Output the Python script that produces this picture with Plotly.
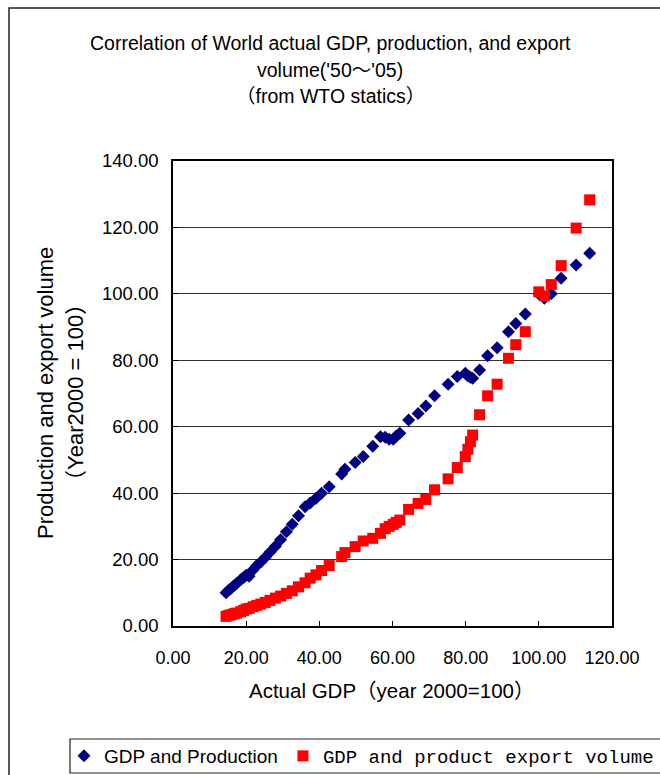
import plotly.graph_objects as go

# World actual GDP index (2000 = 100), '50 - '05
gdp = [14.5, 15.2, 15.9, 16.7, 17.4, 18.5, 19.3, 20.0, 20.8, 21.9,
       22.9, 24.0, 25.2, 26.5, 28.0, 29.4, 31.0, 32.6, 34.3, 36.1,
       37.5, 39.1, 40.6, 42.7, 46.1, 47.0, 49.8, 52.0, 54.6, 56.7,
       58.0, 59.1, 60.2, 61.0, 62.0, 64.4, 67.0, 69.1, 71.5, 75.2,
       77.7, 79.9, 80.6, 81.3, 81.9, 83.8, 86.0, 88.6, 91.7, 93.7,
       96.3, 100.0, 101.5, 103.4, 106.1, 110.2, 113.9]

production = [10.0, 10.8, 11.4, 12.2, 12.8, 13.9, 14.6, 15.3, 15.0, 16.9,
              18.2, 19.3, 20.6, 22.2, 24.0, 26.0, 28.4, 30.6, 33.2, 35.9,
              37.0, 38.5, 40.0, 41.9, 45.8, 47.2, 49.2, 51.0, 54.1, 57.0,
              56.8, 56.2, 56.2, 57.2, 58.0, 62.0, 64.0, 66.2, 69.3, 72.8,
              75.1, 76.1, 75.3, 74.9, 74.6, 77.1, 81.4, 83.8, 88.6, 91.1,
              93.9, 100.0, 98.7, 100.0, 104.7, 108.7, 112.2]

exports = [2.9, 3.2, 3.4, 3.7, 3.9, 4.3, 4.7, 5.1, 5.3, 5.8,
           6.2, 6.6, 7.1, 7.7, 8.4, 9.0, 9.8, 10.6, 11.8, 13.0,
           14.4, 15.4, 16.7, 18.2, 20.9, 22.1, 23.9, 25.6, 26.4, 27.9,
           29.3, 30.0, 30.6, 31.2, 31.9, 35.1, 36.9, 38.1, 41.0, 44.3,
           47.7, 51.0, 53.2, 55.5, 57.5, 63.6, 69.3, 72.8, 80.6, 84.7,
           88.6, 100.6, 99.4, 102.8, 108.5, 119.8, 128.3]

x_ticks = [0, 20, 40, 60, 80, 100, 120]
y_ticks = [0, 20, 40, 60, 80, 100, 120, 140]

title_lines = ["Correlation of World actual GDP, production, and export",
               "volume('50～'05)",
               "（from WTO statics）"]
x_title = "Actual GDP（year 2000=100）"
y_title_lines = ["Production and export volume", "（Year2000 = 100）"]
series_names = ["GDP and Production", "GDP and product export volume"]

FONT = "Liberation Sans, Noto Sans CJK JP, sans-serif"

fig = go.Figure()
fig.add_trace(go.Scatter(
    x=gdp, y=production, mode="markers", name=series_names[0],
    marker=dict(symbol="diamond", size=10, color="#000080",
                line=dict(width=0)),
))
fig.add_trace(go.Scatter(
    x=gdp, y=exports, mode="markers",
    name="<span style='font-family:Liberation Mono'>" + series_names[1] + "</span>",
    marker=dict(symbol="square", size=11, color="#FF0000",
                line=dict(width=0)),
))

L, R, T, B = 173, 48, 161, 149
W, H = 660, 775
pw, ph = W - L - R, H - T - B


def px(xpix):
    return (xpix - L) / pw


def py(ypix):
    return (H - B - ypix) / ph


annotations = []
for line, yy in zip(title_lines, [43, 70, 96]):
    annotations.append(dict(text=line, x=px(330), y=py(yy), xref="paper", yref="paper",
                            showarrow=False, xanchor="center", yanchor="middle",
                            font=dict(family=FONT, size=19.5, color="black")))
annotations.append(dict(text=x_title, x=px(391), y=py(690), xref="paper", yref="paper",
                        showarrow=False, xanchor="center", yanchor="middle",
                        font=dict(family=FONT, size=20.5, color="black")))
for line, xx in zip(y_title_lines, [45, 75]):
    annotations.append(dict(text=line, x=px(xx), y=py(393), xref="paper", yref="paper",
                            showarrow=False, xanchor="center", yanchor="middle",
                            textangle=-90,
                            font=dict(family=FONT, size=22, color="black")))

shapes = [
    # outer chart frame
    dict(type="rect", xref="paper", yref="paper",
         x0=px(9), x1=px(668), y0=py(785), y1=py(8),
         line=dict(color="#222222", width=1.5), layer="below"),
    # legend frame
    dict(type="rect", xref="paper", yref="paper",
         x0=px(70), x1=px(670), y0=py(773), y1=py(739),
         line=dict(color="#222222", width=1.2), layer="below"),
]

fig.update_layout(
    width=W, height=H,
    margin=dict(l=L, r=R, t=T, b=B, pad=0, autoexpand=False),
    paper_bgcolor="white", plot_bgcolor="white",
    font=dict(family=FONT, size=18, color="black"),
    showlegend=True,
    legend=dict(orientation="h", x=px(64), y=py(756), xanchor="left", yanchor="middle",
                font=dict(family=FONT, size=19, color="black"),
                bgcolor="rgba(0,0,0,0)", borderwidth=0,
                itemwidth=30),
    annotations=annotations,
    shapes=shapes,
    xaxis=dict(range=[0, 120], tickvals=x_ticks, tickformat=".2f",
               showgrid=False, zeroline=False,
               showline=True, linecolor="black", linewidth=1.5, mirror=True,
               ticks="inside", ticklen=5, tickcolor="black", tickwidth=1,
               ticklabelstandoff=15,
               tickfont=dict(family=FONT, size=18, color="black")),
    yaxis=dict(range=[0, 140], tickvals=y_ticks, tickformat=".2f",
               showgrid=True, gridcolor="#333333", gridwidth=1, zeroline=False,
               showline=True, linecolor="black", linewidth=1.5, mirror=True,
               ticks="inside", ticklen=5, tickcolor="black", tickwidth=1,
               ticklabelstandoff=9,
               tickfont=dict(family=FONT, size=18.5, color="black")),
)

fig.write_html("out.html", config={"displayModeBar": False},
               post_script="document.body.style.margin='0';document.body.style.overflow='hidden';")
